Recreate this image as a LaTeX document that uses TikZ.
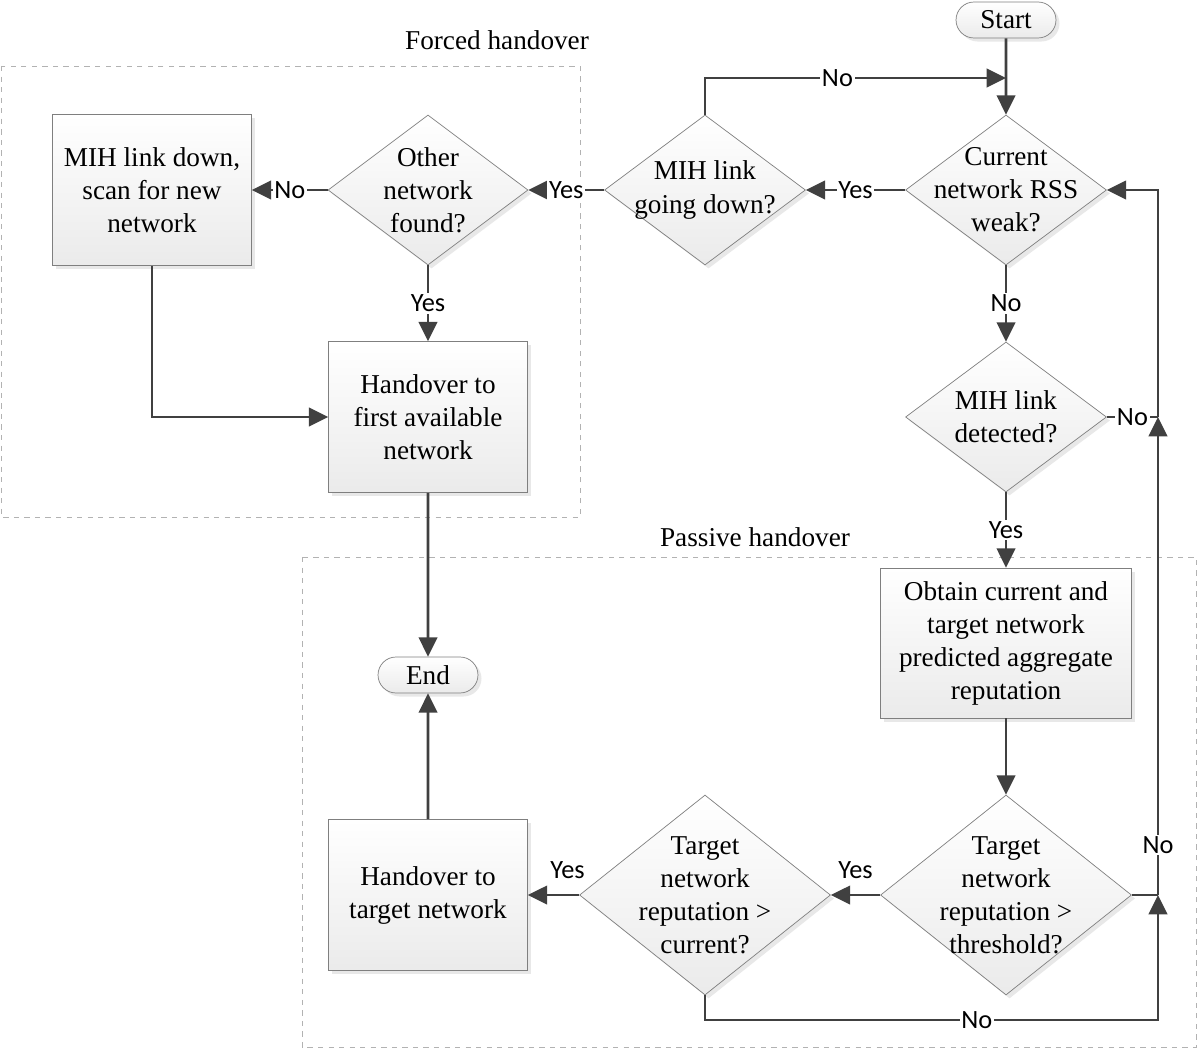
\documentclass[tikz,border=0pt]{standalone}
\usepackage{fontspec}
\setmainfont{Liberation Serif}
\newfontfamily\lblfont{Carlito}
\usetikzlibrary{shapes.geometric, shapes.misc, shadows, arrows.meta}
\definecolor{linegray}{HTML}{404040}
\definecolor{edgegray}{HTML}{7F7F7F}

\begin{document}
\begin{tikzpicture}[
    x = {(0.02cm, 0)}, y = {(0, -0.02cm)},
    every node/.style = {font = \fontsize{15.5}{18.8}\selectfont},
    base/.style = {
      draw = edgegray, thin, top color = white, bottom color = gray!16,
      drop shadow = {opacity = 0.18, shadow xshift = 2pt, shadow yshift = -2pt}
    },
    process/.style = {base, rectangle, align = center,
      minimum width = 3.98cm, minimum height = 3.02cm},
    terminal/.style = {base, rounded rectangle, inner sep = 0pt,
      minimum width = 2cm, minimum height = 0.72cm},
    decision/.style = {base, diamond, inner sep = 0pt,
      minimum width = 4.02cm, minimum height = 3cm},
    bigdecision/.style = {decision, minimum width = 5.02cm, minimum height = 4cm},
    dtext/.style = {align = center},
    group/.style = {draw = gray!60, dashed, thin},
    line/.style = {draw = linegray, line width = 1.5pt},
    arr/.style = {line, -{Triangle[length = 11pt, width = 10.5pt]}},
    lbl/.style = {fill = white, inner sep = 1pt,
      font = \lblfont\fontsize{15}{18}\selectfont}
  ]
  \useasboundingbox (0, 0) rectangle (1200, 1051);

  % dashed regions
  \draw[group] (1, 66) rectangle (580, 517);
  \node (forcedL) at (497, 40) {Forced handover};
  \draw[group] (302, 557) rectangle (1196, 1047);
  \node (passiveL) at (755, 537) {Passive handover};

  % terminals and boxes
  \node[terminal] (start) at (1006, 20) {Start};
  \node[terminal] (end) at (428, 675) {End};
  \node[process] (scan) at (152, 190) {MIH link down,\\scan for new\\network};
  \node[process] (hfirst) at (428, 417) {Handover to\\first available\\network};
  \node[process, minimum width = 5.02cm, minimum height = 3cm] (obtain)
    at (1006, 643) {Obtain current and\\target network\\predicted aggregate\\reputation};
  \node[process] (htarget) at (428, 895) {Handover to\\target network};

  % decisions
  \node[decision] (cur) at (1006, 190) {};
  \node[decision] (mihdown) at (705, 190) {};
  \node[decision, minimum width = 4cm] (other) at (428, 190) {};
  \node[decision] (detect) at (1006, 417) {};
  \node[bigdecision] (thr) at (1006, 895) {};
  \node[bigdecision] (tcur) at (705, 895) {};

  \node[dtext] (curT) at (cur) {Current\\network RSS\\weak?};
  \node[dtext] (mihdownT) at (mihdown) {MIH link\\going down?};
  \node[dtext] (otherT) at (other) {Other\\network\\found?};
  \node[dtext] (detectT) at (detect) {MIH link\\detected?};
  \node[dtext] (thrT) at (thr) {Target\\network\\reputation >\\threshold?};
  \node[dtext] (tcurT) at (tcur) {Target\\network\\reputation >\\current?};

  % junctions
  \coordinate (jS) at (1006, 78);
  \coordinate (jA) at (1158, 895);
  \coordinate (jB) at (1158, 417);
  \coordinate (jC) at (1158, 1020);

  % connectors
  \draw[arr] (start) -- (cur);
  \draw[arr] (cur) -- node[lbl] {Yes} (mihdown);
  \draw[arr] (mihdown) -- node[lbl] {Yes} (other);
  \draw[arr] (other) -- node[lbl] {No} (scan);
  \draw[arr] (other) -- node[lbl] {Yes} (hfirst);
  \draw[arr] (scan) |- (hfirst);
  \draw[arr] (hfirst) -- (end);
  \draw[arr] (mihdown) |- node[lbl, pos = 0.72] {No} (jS);
  \draw[arr] (cur) -- node[lbl] {No} (detect);
  \draw[arr] (detect) -- node[lbl] {Yes} (obtain);
  \draw[arr] (obtain) -- (thr);
  \draw[arr] (thr) -- node[lbl, yshift = 14pt, fill = none] {Yes} (tcur);
  \draw[arr] (tcur) -- node[lbl, yshift = 14pt, xshift = 8pt, fill = none] {Yes} (htarget);
  \draw[arr] (htarget) -- (end);
  \draw[arr] (tcur) |- node[lbl, pos = 0.8] {No} (jC) -- (jA);
  \draw[line] (thr) -- (jA);
  \draw[arr] (jA) -- node[lbl, pos = 0.105] {No} (jB);
  \draw[line] (detect) -- node[lbl] {No} (jB);
  \draw[arr] (jB) |- (cur);
\end{tikzpicture}
\end{document}
